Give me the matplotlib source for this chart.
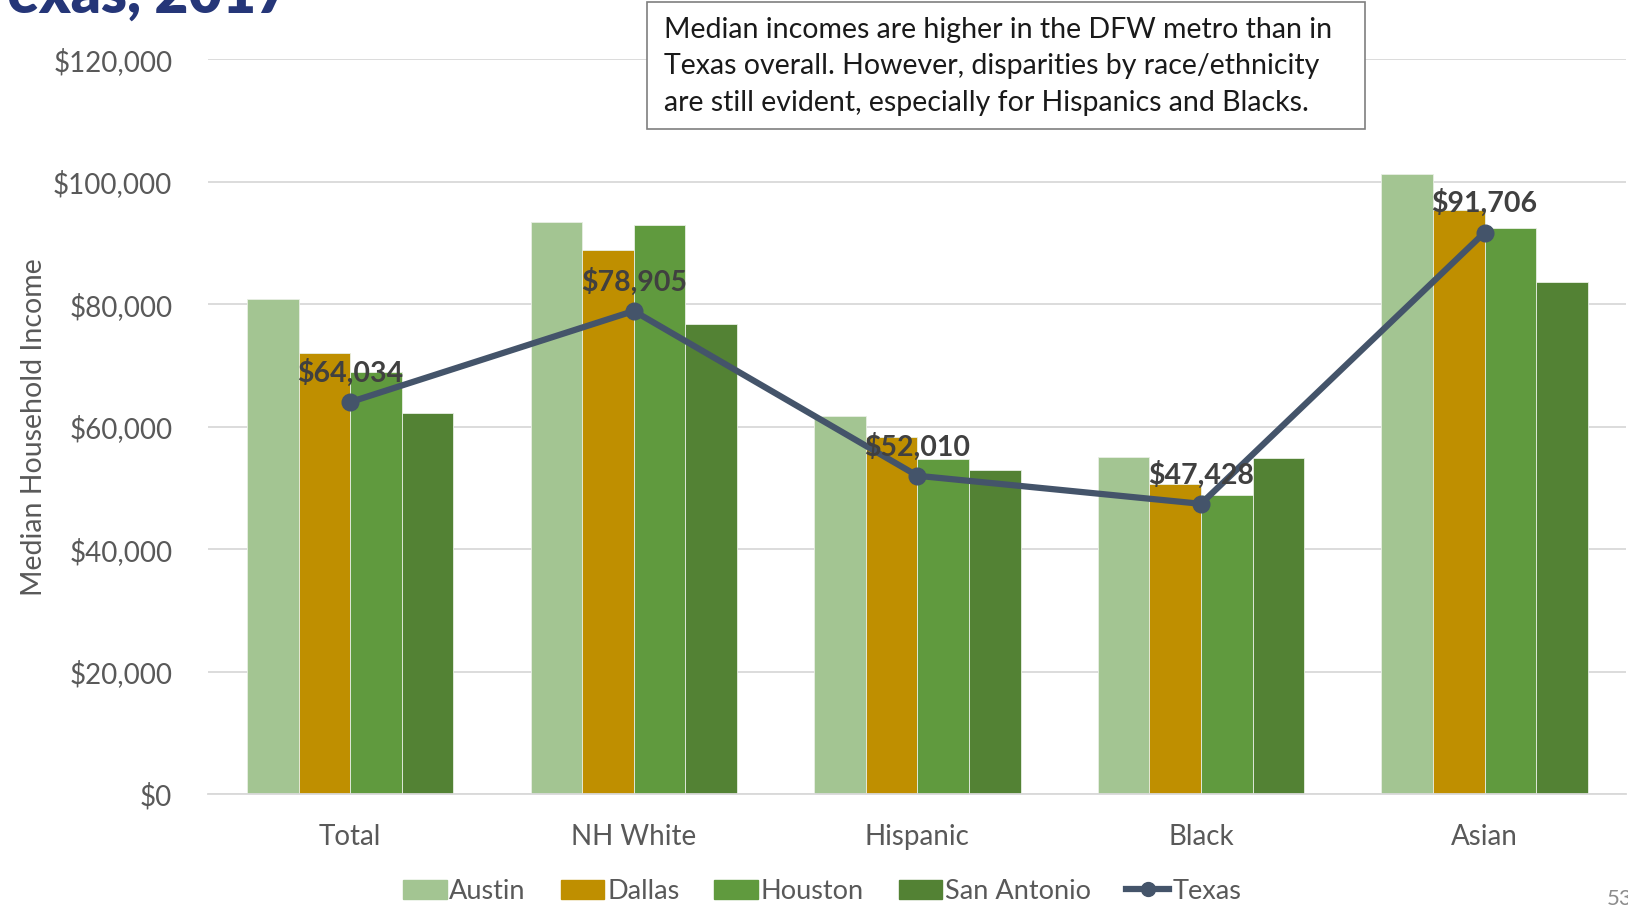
import numpy as np
import matplotlib.pyplot as plt
from matplotlib.ticker import FuncFormatter
from matplotlib.lines import Line2D
from matplotlib.patches import Patch, Rectangle

plt.rcParams['font.family'] = ['Lato', 'DejaVu Sans']

categories = ["Total", "NH White", "Hispanic", "Black", "Asian"]
austin = [80900, 93400, 61700, 55100, 101200]
dallas = [72100, 88900, 58400, 50700, 95400]
houston = [69000, 92900, 54700, 48900, 92500]
san_antonio = [62300, 76700, 53000, 54900, 83700]
texas = [64034, 78905, 52010, 47428, 91706]

series = ["Austin", "Dallas", "Houston", "San Antonio"]
colors = ["#A3C592", "#BF8F00", "#609A3E", "#538234"]
line_col = "#44546A"
txt_col = "#595959"

fig = plt.figure(figsize=(16.28, 9.15), dpi=100)
ax = fig.add_axes([0.128, 0.1318, 0.871, 0.8035])

x = np.arange(len(categories))
w = 0.182
for i, (vals, c) in enumerate(zip([austin, dallas, houston, san_antonio], colors)):
    ax.bar(x + (i - 1.5) * w, vals, w, color=c, edgecolor="#E8EFE4", linewidth=0.6, zorder=2)

ax.plot(x, texas, color=line_col, lw=4.5, marker='o', ms=12, zorder=4)
for xi, v in zip(x, texas):
    ax.annotate(f"${v:,}", (xi, v), xytext=(0, 11), textcoords='offset points',
                ha='center', va='bottom', fontsize=20.5, fontweight='bold',
                color="#404040", zorder=5)

ax.set_xlim(-0.5, 4.5)
ax.set_ylim(0, 120000)
ax.set_yticks(np.arange(0, 120001, 20000))
ax.yaxis.set_major_formatter(FuncFormatter(lambda v, p: f"${v:,.0f}"))
ax.set_xticks(x)
ax.set_xticklabels(categories)
ax.tick_params(axis='both', length=0, labelsize=20, colors=txt_col)
ax.tick_params(axis='x', pad=21)
ax.tick_params(axis='y', pad=26)
ax.grid(axis='y', color="#D9D9D9", lw=1.3, zorder=0)
for s in ["top", "right", "left"]:
    ax.spines[s].set_visible(False)
ax.spines["bottom"].set_color("#D9D9D9")
ax.spines["bottom"].set_linewidth(1.3)
ax.set_ylabel("Median Household Income", fontsize=20.5, color=txt_col, labelpad=4)

handles = [Patch(color=c) for c in colors] + [Line2D([0], [0], color=line_col, lw=4.5, marker='o', ms=10)]
fig.legend(handles, series + ["Texas"], loc='center', bbox_to_anchor=(0.505, 0.026), ncol=5,
           frameon=False, fontsize=19.5, labelcolor=txt_col, handlelength=1.6,
           handletextpad=0.1, columnspacing=1.3)

# title cropped at top
fig.text(0.178, 0.986, "Texas, 2017", ha='right', va='baseline', fontsize=42,
         fontweight='heavy', color="#253678")

# note box
fig.patches.append(Rectangle((0.3974, 0.859), 0.441, 0.1388, transform=fig.transFigure,
                             fc='white', ec='#7f7f7f', lw=1.2, zorder=5))
fig.text(0.408, 0.9815, "Median incomes are higher in the DFW metro than in\n"
         "Texas overall. However, disparities by race/ethnicity\n"
         "are still evident, especially for Hispanics and Blacks.",
         ha='left', va='top', fontsize=20.5, color="#1a1a1a", linespacing=1.5, zorder=6)

fig.text(0.987, 0.017, "53", ha='left', va='center', fontsize=16, color="#8c8c8c")

fig.savefig("out.png", dpi=100)
